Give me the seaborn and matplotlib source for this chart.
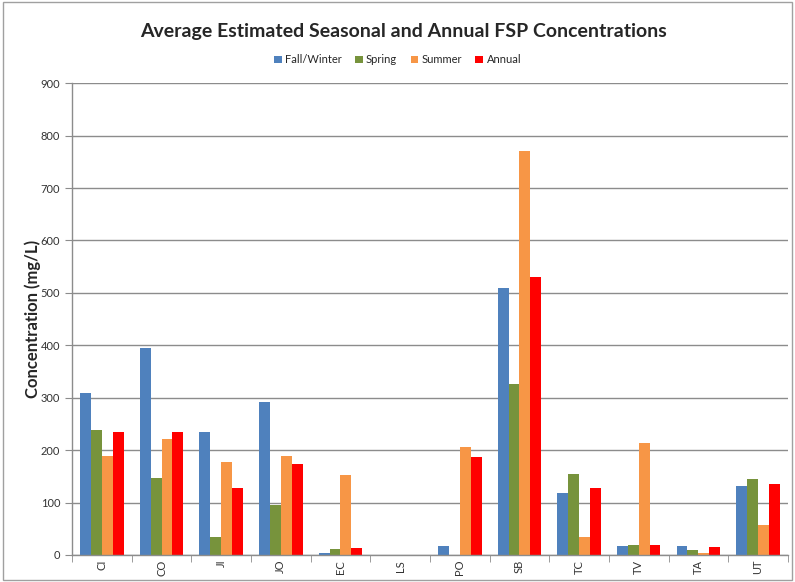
import pandas as pd
import matplotlib.pyplot as plt
import seaborn as sns
from matplotlib.patches import Rectangle

# Sitios y valores por estación
sitios = ["CI", "CO", "JI", "JO", "EC", "LS", "PO", "SB", "TC", "TV", "TA", "UT"]
fall_winter = [309, 395, 234, 292, 4, 0, 17, 509, 119, 18, 18, 131]
spring = [238, 146, 34, 95, 12, 0, 0, 327, 155, 19, 9, 145]
summer = [189, 222, 178, 189, 152, 0, 206, 770, 35, 213, 4, 58]
annual = [234, 235, 128, 173, 13, 0, 186, 531, 127, 19, 15, 135]

series = ["Fall/Winter", "Spring", "Summer", "Annual"]
colores = {
    "Fall/Winter": "#4F81BD",
    "Spring": "#77933C",
    "Summer": "#F79646",
    "Annual": "#FF0000",
}

df = pd.DataFrame({
    "sitio": sitios * 4,
    "serie": [s for s in series for _ in sitios],
    "valor": fall_winter + spring + summer + annual,
})

sns.set_style("white")
plt.rcParams['font.family'] = ['Lato', 'DejaVu Sans']

fig = plt.figure(figsize=(7.95, 5.82), dpi=100)
ax = fig.add_axes([0.0906, 0.0464, 0.9004, 0.8106])

sns.barplot(
    data=df, x="sitio", y="valor", hue="serie",
    order=sitios, hue_order=series, palette=colores,
    width=0.73, gap=0, saturation=1, edgecolor="none",
    errorbar=None, ax=ax,
)

ax.set_ylim(0, 900)
ax.set_xlim(-0.5, len(sitios) - 0.5)
ax.set_yticks(range(0, 901, 100))
ax.yaxis.grid(True, color="#8c8c8c", linewidth=1)
ax.set_axisbelow(True)
for lado in ["top", "right"]:
    ax.spines[lado].set_visible(False)
for lado in ["left", "bottom"]:
    ax.spines[lado].set_color("#8c8c8c")
    ax.spines[lado].set_linewidth(1)

# marcas entre categorías
ax.set_xticks([i - 0.5 for i in range(len(sitios) + 1)], minor=True)
ax.tick_params(axis="x", which="minor", length=5, color="#8c8c8c", direction="out", bottom=True)
ax.tick_params(axis="x", which="major", length=0, labelsize=8, rotation=90, labelcolor="#333333")
ax.tick_params(axis="y", length=5, color="#8c8c8c", labelsize=8, labelcolor="#333333", left=True)

ax.set_xlabel("")
ax.set_ylabel("Concentration (mg/L)", fontsize=12, fontweight="bold", labelpad=0)

ax.legend(
    loc="center", bbox_to_anchor=(0.5, 0.897), bbox_transform=fig.transFigure,
    ncol=4, frameon=False, fontsize=8, handlelength=0.7, handleheight=0.7,
    handletextpad=0.3, columnspacing=1.2,
)

fig.suptitle("Average Estimated Seasonal and Annual FSP Concentrations",
             x=0.507, y=0.96, fontsize=14, fontweight="bold")

fig.patches.append(Rectangle((0.004, 0.004), 0.992, 0.992, transform=fig.transFigure,
                             fill=False, edgecolor="#a0a0a0", linewidth=1))

plt.savefig("out.png", dpi=100)
plt.close()
